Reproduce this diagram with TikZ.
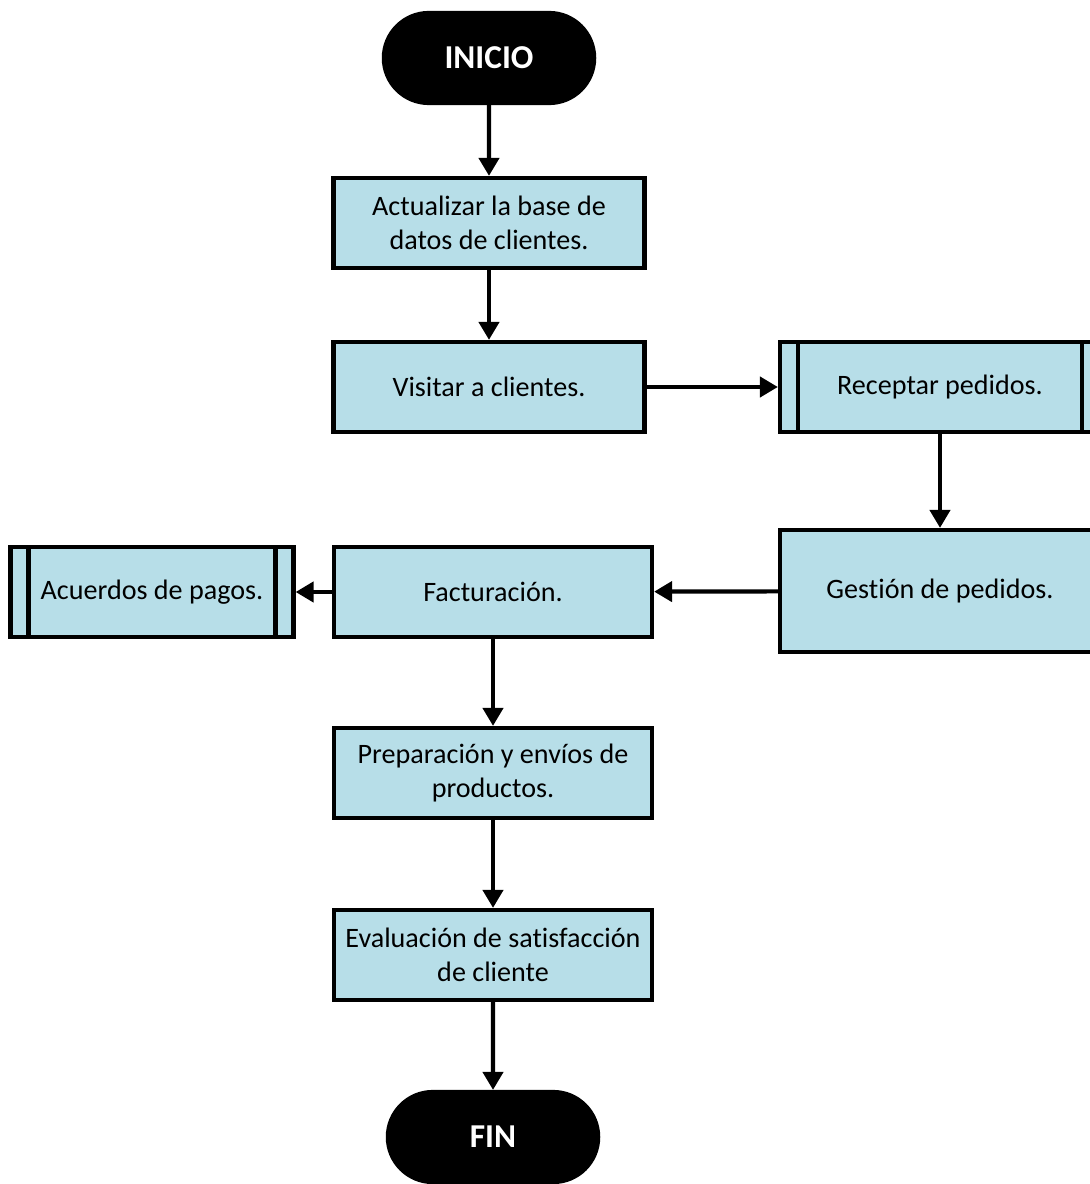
\documentclass[tikz,border=0pt]{standalone}
\usepackage{fontspec}
\setmainfont{Carlito}[Ligatures=NoCommon]
\usepackage{tikz}
\usetikzlibrary{positioning,shapes.misc,arrows.meta}
\definecolor{boxblue}{RGB}{183,222,232}

\begin{document}
\begin{tikzpicture}[on grid,line width=2.4pt,
    every node/.style={font=\fontsize{16}{19.5}\selectfont},
    term/.style={rounded rectangle,fill=black,draw=black,text=white,
      minimum width=4.44cm,minimum height=1.8cm,font=\fontsize{19}{22}\selectfont\bfseries},
    proc/.style={rectangle,draw=black,fill=boxblue,minimum width=6.3cm,
      minimum height=1.8cm,align=center},
    subproc/.style={proc,minimum width=6.2cm,
      path picture={
        \draw ([xshift=0.36cm]path picture bounding box.north west)
           -- ([xshift=0.36cm]path picture bounding box.south west);
        \draw ([xshift=-0.36cm]path picture bounding box.north east)
           -- ([xshift=-0.36cm]path picture bounding box.south east);}},
    arr/.style={-{Triangle[length=0.36cm,width=0.4cm]}}]
   \useasboundingbox (0,0) rectangle (21.78,-23.68);
   \node[term] (inicio) at (9.78,-1.16) {INICIO};
   \node[proc,minimum width=6.22cm] (actualizar) [below=3.3cm of inicio] {Actualizar la base de\\datos de clientes.};
   \node[proc,minimum width=6.22cm] (visitar) [below=3.28cm of actualizar] {Visitar a clientes.};
   \node[subproc,minimum width=6.4cm] (receptar) [right=9.02cm of visitar] {Receptar pedidos.};
   \node[proc,minimum width=6.4cm,minimum height=2.44cm] (gestion) [below=4.08cm of receptar] {Gestión de pedidos.};
   \node[proc,minimum width=6.36cm] (factura) at (9.86,-11.84) {Facturación.};
   \node[subproc,minimum width=5.66cm] (acuerdos) [left=6.82cm of factura] {Acuerdos de pagos.};
   \node[proc,minimum width=6.36cm] (prepara) [below=3.62cm of factura] {Preparación y envíos de\\productos.};
   \node[proc,minimum width=6.36cm] (evalua) [below=3.64cm of prepara] {Evaluación de satisfacción\\de cliente};
   \node[term] (fin) [below=3.64cm of evalua] {FIN};
    % connectors
    \draw[arr] (inicio) -- (actualizar);
    \draw[arr] (actualizar) -- (visitar);
    \draw[arr] (visitar) -- (receptar);
    \draw[arr] (receptar) -- (gestion);
    \draw[arr] (gestion) -- (factura);
    \draw[arr] (factura) -- (acuerdos);
    \draw[arr] (factura) -- (prepara);
    \draw[arr] (prepara) -- (evalua);
    \draw[arr] (evalua) -- (fin);
\end{tikzpicture}
\end{document}
